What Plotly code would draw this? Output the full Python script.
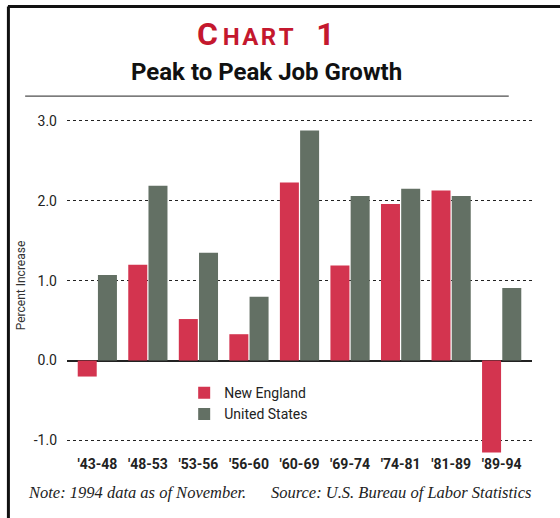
import plotly.graph_objects as go

periods = ["'43-48", "'48-53", "'53-56", "'56-60", "'60-69", "'69-74", "'74-81", "'81-89", "'89-94"]
new_england = [-0.2, 1.2, 0.52, 0.33, 2.23, 1.19, 1.96, 2.13, -1.15]
united_states = [1.07, 2.19, 1.35, 0.8, 2.88, 2.06, 2.15, 2.06, 0.91]
y_ticks = [-1.0, 0.0, 1.0, 2.0, 3.0]
y_tick_labels = ["-1.0", "0.0", "1.0", "2.0", "3.0"]

SANS = "Roboto, Liberation Sans, Arial, sans-serif"

fig = go.Figure()
fig.add_trace(go.Bar(x=periods, y=new_england, name="New England",
                     marker=dict(color="#d3344f", line=dict(width=0))))
fig.add_trace(go.Bar(x=periods, y=united_states, name="United States",
                     marker=dict(color="#637064", line=dict(width=0))))

fig.update_layout(
    width=560, height=518,
    margin=dict(l=67, r=28, t=117, b=64),
    paper_bgcolor="white", plot_bgcolor="white",
    barmode="group", bargap=0.2, bargroupgap=0.06,
    showlegend=True,
    legend=dict(x=0.252, y=0.228, xanchor="left", yanchor="top",
                bgcolor="rgba(0,0,0,0)", tracegroupgap=0, itemwidth=30,
                font=dict(family=SANS, size=14, color="#222")),
    font=dict(family=SANS, color="#222"),
)
fig.update_xaxes(range=[-0.6, 8.6], showgrid=False, showline=False, ticks="", tickangle=0,
                 tickfont=dict(family=SANS, size=14, color="#222", weight="bold"))
fig.update_yaxes(range=[-1.17, 3.05], tickvals=y_ticks, ticktext=y_tick_labels,
                 showgrid=True, gridcolor="#222", griddash="dot", gridwidth=1.3,
                 zeroline=True, zerolinecolor="#222", zerolinewidth=1.6,
                 showline=False, ticks="", ticklabelstandoff=9,
                 tickfont=dict(family=SANS, size=14, color="#222"),
                 title=dict(text="Percent Increase", standoff=5,
                            font=dict(family=SANS, size=12, color="#333")))

# frame and rule
fig.add_shape(type="line", xref="paper", yref="paper", x0=-0.127, x1=1.1, y0=1.328, y1=1.328,
              line=dict(color="#111", width=3))
fig.add_shape(type="line", xref="paper", yref="paper", x0=-0.126, x1=-0.126, y0=1.328, y1=-0.2,
              line=dict(color="#111", width=3))

fig.add_annotation(xref="paper", yref="paper", x=0.428, y=1.245, xanchor="center", yanchor="middle",
                   showarrow=False,
                   text="C<span style='font-size:24px'>\u2009H\u200aA\u200aR\u200aT</span>\u2002\u20091",
                   font=dict(family=SANS, size=32, color="#c4182e", weight="bold"))
fig.add_annotation(xref="paper", yref="paper", x=0.428, y=1.133, xanchor="center", yanchor="middle",
                   showarrow=False, text="Peak to Peak Job Growth",
                   font=dict(family=SANS, size=24, color="#111", weight="bold"))
fig.add_shape(type="line", xref="paper", yref="paper", x0=-0.09, x1=0.95, y0=1.062, y1=1.062,
              line=dict(color="#222", width=1))
fig.add_annotation(xref="paper", yref="paper", x=0.458, y=-0.115, xanchor="center", yanchor="middle",
                   showarrow=False,
                   text="Note: 1994 data as of November.\u2003\u2002Source: U.S. Bureau of Labor Statistics",
                   font=dict(family="Liberation Serif, DejaVu Serif, serif", size=16.5, color="#222", style="italic"))

fig.write_html("out.html")
